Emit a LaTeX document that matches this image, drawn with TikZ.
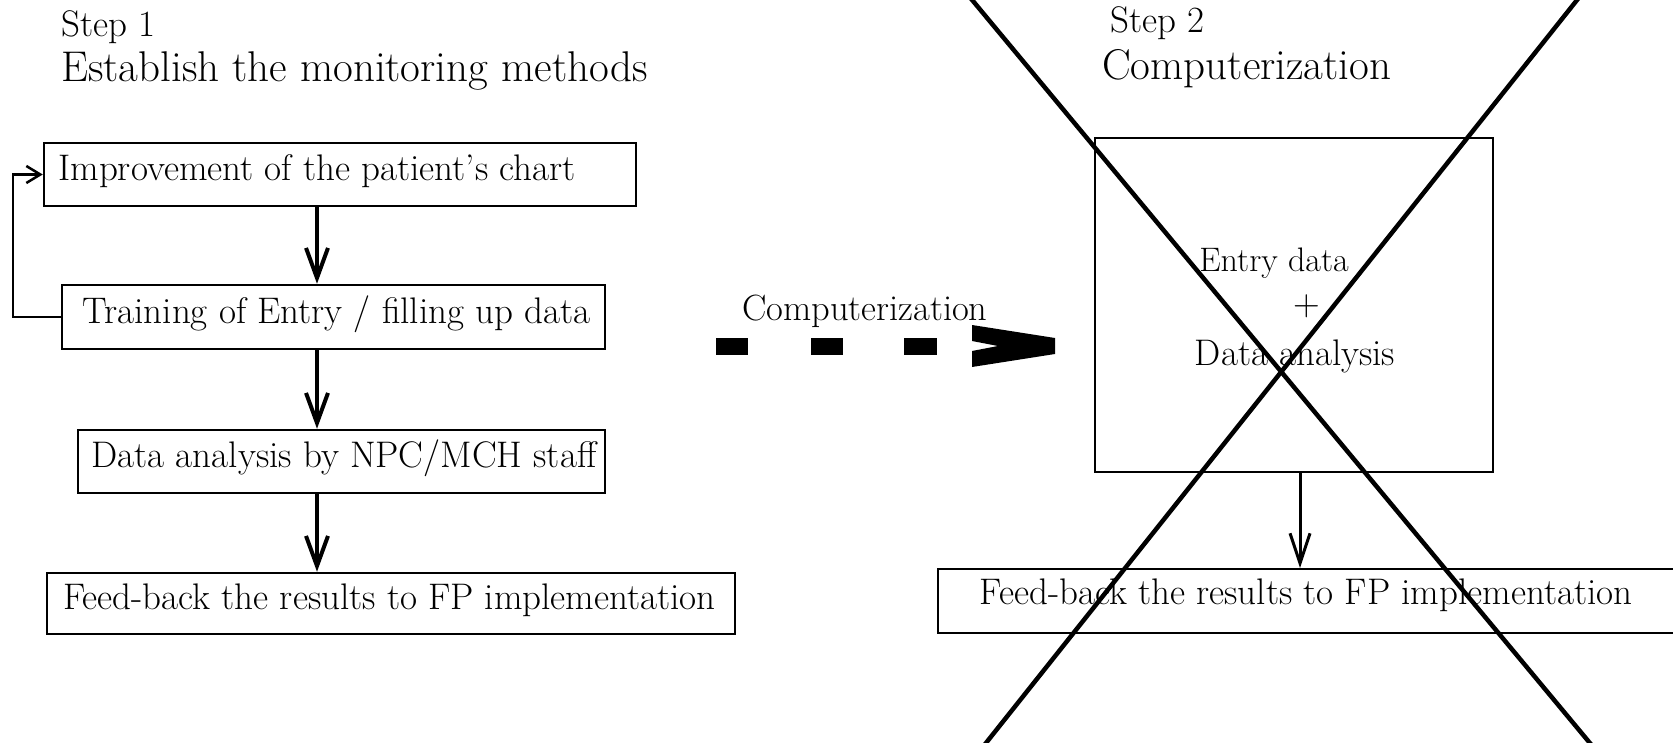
\documentclass[tikz,border=0pt]{standalone}
\usepackage{fontspec}
\usetikzlibrary{arrows.meta}
\begin{document}
\begin{tikzpicture}[x=1pt,y=-1pt,
  boxnode/.style={draw=black,line width=2.5pt,inner sep=0pt},
  txt/.style={inner sep=0pt,font=\fontsize{37}{42}\selectfont},
  headtxt/.style={inner sep=0pt,anchor=west,font=\fontsize{43}{48}\selectfont},
  steptxt/.style={inner sep=0pt,anchor=west,font=\fontsize{37}{42}\selectfont},
  mainarrow/.style={line width=4pt,-{Straight Barb[length=30pt,width=22pt]}},
  thinarrow/.style={line width=3pt,-{Straight Barb[length=30pt,width=20pt]}},
  looparrow/.style={line width=2.5pt,-{Straight Barb[length=14pt,width=17pt]}},
  crossline/.style={line width=4.5pt}]
\useasboundingbox (0,0) rectangle (1673,743);
\fill[white] (0,0) rectangle (1673,743);

% ---------- Step 1 ----------
\node[steptxt] (s1) at (61,27) {Step 1};
\node[headtxt] (h1) at (61,71) {Establish the monitoring methods};

\node[boxnode,minimum width=592pt,minimum height=63pt] (b1) at (340,174.5) {};
\node[txt] (t1) at (317,171) {Improvement of the patient's chart};

\node[boxnode,minimum width=543pt,minimum height=64pt] (b2) at (333.5,317) {};
\node[txt] (t2) at (336.5,314) {Training of Entry / filling up data};

\node[boxnode,minimum width=527pt,minimum height=63pt] (b3) at (341.5,461.5) {};
\node[txt] (t3) at (344,458) {Data analysis by NPC/MCH staff};

\node[boxnode,minimum width=688pt,minimum height=61pt] (b4) at (391,603.5) {};
\node[txt] (t4) at (389.5,600) {Feed-back the results to FP implementation};

\coordinate (ax) at (317,0);
\draw[mainarrow] (b1.south -| ax) -- (b2.north -| ax);
\draw[mainarrow] (b2.south -| ax) -- (b3.north -| ax);
\draw[mainarrow] (b3.south -| ax) -- (b4.north -| ax);

\coordinate (lx) at (13,0);
\draw[looparrow] (b2.west) -| (lx |- b1.west) -- (b1.west);

% ---------- Computerization arrow ----------
\node[inner sep=0pt,anchor=base west,font=\fontsize{36.5}{42}\selectfont] (cm) at (742,320) {Computerization};
\fill[black] (716,338) rectangle (748,355);
\fill[black] (811,338) rectangle (843,355);
\fill[black] (904,338) rectangle (937,355);
\fill[black] (972,325) -- (1055,338) -- (1055,354) -- (972,367) -- (972,351) -- (998,346) -- (972,341) -- cycle;

% ---------- Step 2 ----------
\node[steptxt] (s2) at (1110,23) {Step 2};
\node[headtxt] (h2) at (1102,69) {Computerization};

\node[boxnode,line width=2pt,minimum width=398pt,minimum height=334pt] (big) at (1294,305) {};
\node[txt,font=\fontsize{34}{40}\selectfont] (e1) at (1274,263) {Entry data};
\node[txt] (e2) at (1307,306) {+};
\node[txt] (e3) at (1295,356) {Data analysis};

\begin{scope}
\clip (0,0) rectangle (1673,743);
\node[boxnode,line width=2pt,minimum width=760pt,minimum height=64pt] (rb4) at (1318,601) {};
\node[txt] (rt4) at (1306,595) {Feed-back the results to FP implementation};
\coordinate (rx) at (1300,0);
\draw[thinarrow] (big.south -| rx) -- (rb4.north -| rx);
\draw[crossline] (968,-5) -- (1594,748);
\draw[crossline] (1581,-5) -- (982,748);
\end{scope}
\end{tikzpicture}
\end{document}
